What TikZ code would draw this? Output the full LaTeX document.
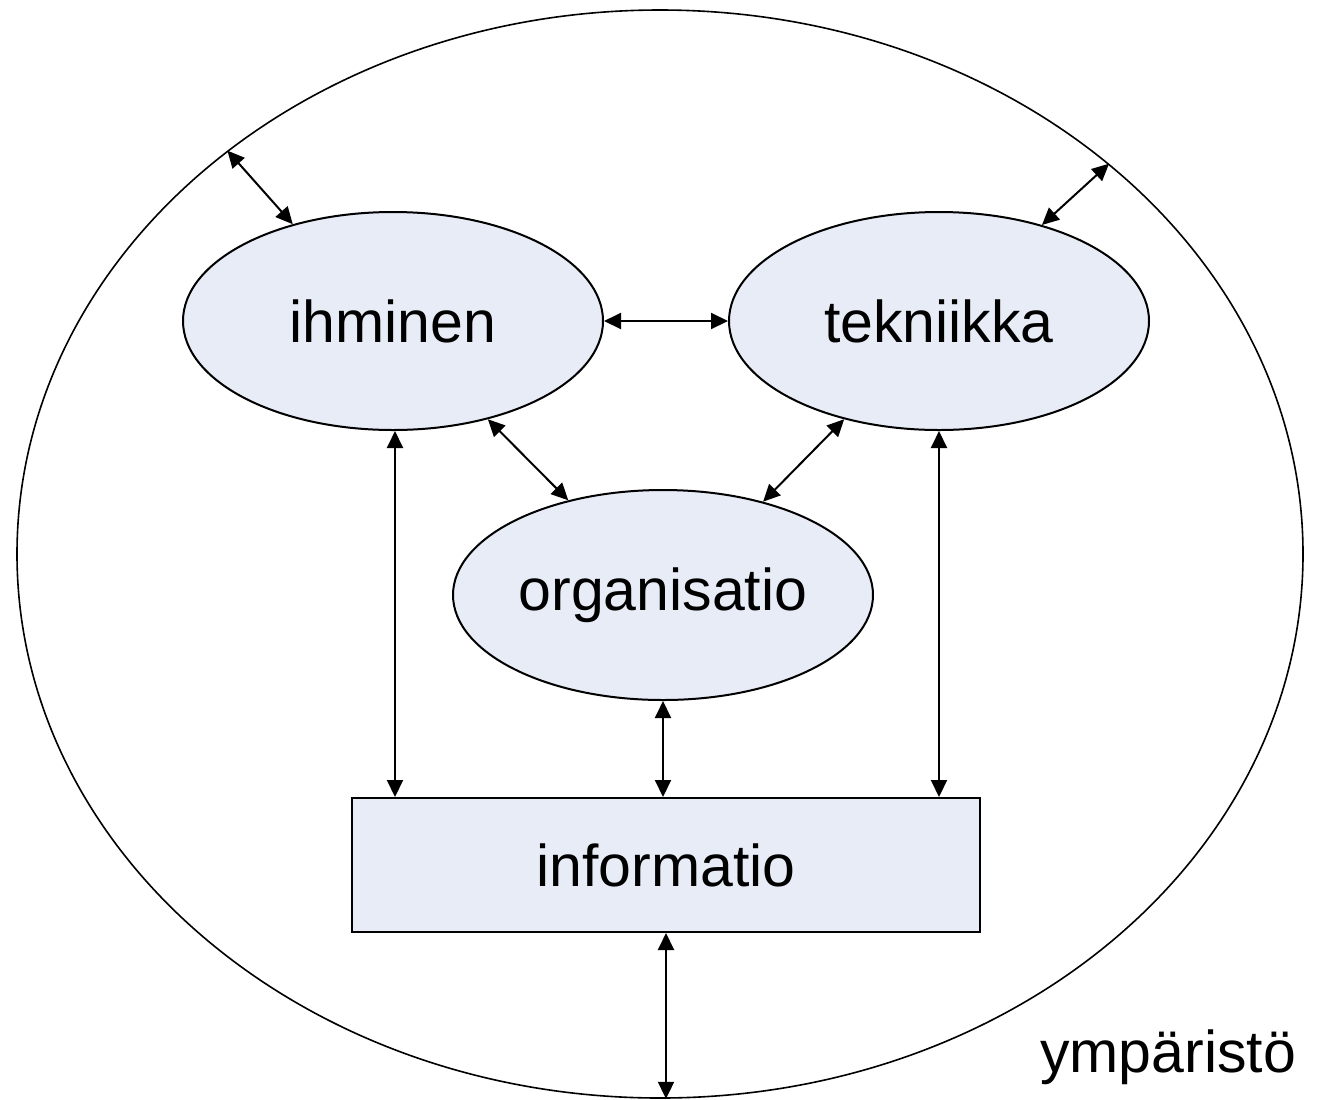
\documentclass[tikz,border=0pt]{standalone}
\usepackage{fontspec}
\setmainfont{Liberation Sans}
\usetikzlibrary{shapes.geometric,arrows.meta}
\definecolor{boxfill}{HTML}{E7ECF6}
\begin{document}
\begin{tikzpicture}[x=0.5pt,y=-0.5pt,
  every node/.style={font=\fontsize{29.5}{35}\selectfont},
  oval/.style={ellipse,draw,line width=1pt,fill=boxfill,inner sep=0pt,minimum width=210pt,minimum height=109pt},
  link/.style={line width=1pt,{Triangle[length=8.5pt,width=8pt]}-{Triangle[length=8.5pt,width=8pt]}}]
\useasboundingbox (0,0) rectangle (1317,1099);
\node[ellipse,draw,line width=0.8pt,inner sep=0pt,minimum width=643pt,minimum height=544pt] (env) at (660,554) {};
\node[oval] (ihm) at (393,321) {ihminen};
\node[oval] (tek) at (939,321) {tekniikka};
\node[oval,minimum height=105pt] (org) at (663,595) {organisatio};
\node[draw,line width=1pt,fill=boxfill,minimum width=314pt,minimum height=67pt,inner sep=0pt] (inf) at (666,865) {informatio};
\node[anchor=base] (envlabel) at (1168,1072) {ympäristö};
\draw[link] (ihm.136.5) -- (env.137.6);
\draw[link] (tek.43.2) -- (env.41.7);
\draw[link] (ihm.east) -- (tek.west);
\draw[link] (ihm.-46) -- (org.135);
\draw[link] (tek.-134) -- (org.43.8);
\draw[link] ([xshift=1pt]ihm.south) -- ([xshift=1pt]ihm.south |- inf.north);
\draw[link] (tek.south) -- (tek.south |- inf.north);
\draw[link] (org.south) -- (org.south |- inf.north);
\draw[link] (inf.south) -- (inf.south |- env.south);
\end{tikzpicture}
\end{document}
